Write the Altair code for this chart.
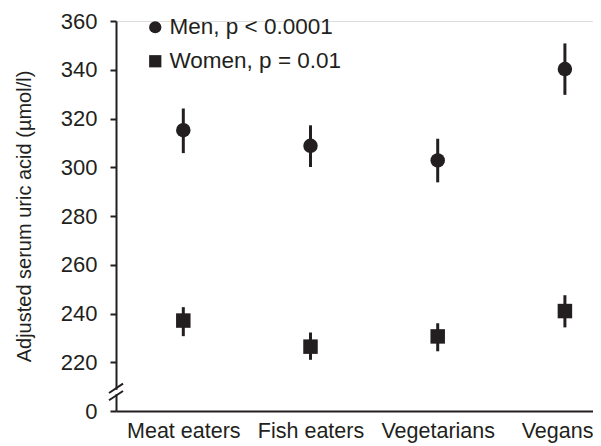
import altair as alt
import pandas as pd

groups = ["Meat eaters", "Fish eaters", "Vegetarians", "Vegans"]
sexes = ["Men, p < 0.0001", "Women, p = 0.01"]

men_mean = [315.2, 308.8, 302.8, 340.3]
men_lo = [305.8, 300.1, 293.8, 329.7]
men_hi = [324.1, 317.2, 311.7, 350.8]

women_mean = [237.1, 226.4, 230.6, 241.0]
women_lo = [230.7, 221.0, 224.5, 234.3]
women_hi = [242.6, 232.2, 236.0, 247.5]

y_ticks = [200, 220, 240, 260, 280, 300, 320, 340, 360]
break_centers = [206.3, 209.3]

rows = []
for sex, means, los, his in [
    (sexes[0], men_mean, men_lo, men_hi),
    (sexes[1], women_mean, women_lo, women_hi),
]:
    for g, m, lo, hi in zip(groups, means, los, his):
        rows.append(dict(group=g, sex=sex, mean=m, lo=lo, hi=hi))
df = pd.DataFrame(rows)

brk = pd.DataFrame({"a": [c - 1.9 for c in break_centers], "b": [c + 1.9 for c in break_centers]})
gap = pd.DataFrame({"a": [break_centers[0] + 0.6], "b": [break_centers[1] - 0.6]})

ink = "#231f20"
FONT = "Liberation Sans"

xenc = alt.X(
    "group:N",
    sort=groups,
    scale=alt.Scale(type="point", padding=0.375, align=0.7055),
    axis=alt.Axis(
        title=None, ticks=False, labelFontSize=21.5, labelPadding=9, labelAngle=0,
        labelFlush=30, labelFlushOffset=28,
        domainColor=ink, domainWidth=2, labelColor=ink, grid=False,
    ),
)
yscale = alt.Scale(domain=[200, 360], nice=False, zero=False)
yaxis = alt.Axis(
    values=y_ticks,
    labelExpr="datum.value == 200 ? '0' : datum.label",
    title="Adjusted serum uric acid (µmol/l)",
    titleFontSize=20, titleFontWeight="normal", titleColor=ink, titlePadding=26,
    labelFontSize=22, labelColor=ink, labelPadding=13,
    tickSize=6, tickWidth=2, tickColor=ink,
    domainColor=ink, domainWidth=2, grid=False,
)

bars = alt.Chart(df).mark_rule(strokeWidth=3, color=ink).encode(
    x=xenc,
    y=alt.Y("lo:Q", scale=yscale, axis=yaxis),
    y2="hi:Q",
)

pts = alt.Chart(df).mark_point(filled=True, opacity=1, size=210, color=ink).encode(
    x=alt.X("group:N", sort=groups),
    y=alt.Y("mean:Q"),
    shape=alt.Shape(
        "sex:N",
        scale=alt.Scale(domain=sexes, range=["circle", "square"]),
        legend=alt.Legend(
            title=None, orient="none", legendX=28, legendY=-5,
            labelFontSize=22.5, labelColor=ink, labelFont=FONT, labelLimit=300,
            symbolSize=150, symbolFillColor=ink, symbolStrokeColor=ink, symbolStrokeWidth=0,
            labelOffset=3, rowPadding=11, padding=0,
        ),
    ),
)

gap_mark = alt.Chart(gap).mark_rule(strokeWidth=4, color="white").encode(
    x=alt.value(0), y="a:Q", y2="b:Q"
)
brk_mark = alt.Chart(brk).mark_rule(strokeWidth=2, color=ink).encode(
    x=alt.value(-7), x2=alt.value(7), y="a:Q", y2="b:Q"
)

chart = (
    alt.layer(bars, pts, gap_mark, brk_mark)
    .properties(
        width=477, height=390,
        autosize=alt.AutoSizeParams(type="none"),
        padding={"left": 108, "top": 13, "right": 0, "bottom": 40},
    )
    .configure_view(stroke=None)
    .configure(font=FONT)
)

chart.save("out.html", embed_options={"renderer": "svg", "actions": False})
